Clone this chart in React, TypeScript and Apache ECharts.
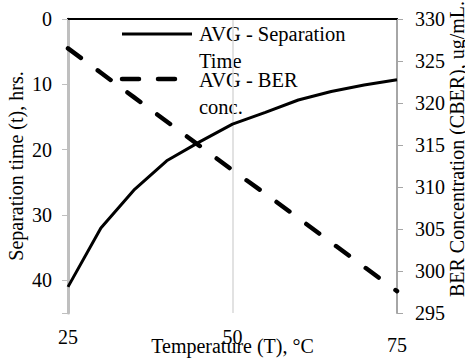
import React, { useEffect, useRef } from "react";
import * as echarts from "echarts";

const temperatures = [25, 30, 35, 40, 45, 50, 55, 60, 65, 70, 75];
const separationTime = [41.0, 32.0, 26.2, 21.7, 18.8, 16.1, 14.3, 12.4, 11.1, 10.1, 9.3];
const berConc = [326.5, 323.6, 320.7, 317.8, 314.9, 312.0, 309.2, 306.3, 303.4, 300.5, 297.6];
const seriesNames = ["AVG - Separation\nTime", "AVG - BER\nconc."];

const FONT = "Liberation Serif";

export default function App() {
  const ref = useRef<HTMLDivElement>(null);
  useEffect(() => {
    if (!ref.current) return;
    document.body.style.margin = "0";
    const chart = echarts.init(ref.current, null, { renderer: "svg" });
    const textBase = { fontFamily: FONT, fontSize: 20, color: "#000" };
    chart.setOption({
      animation: false,
      backgroundColor: "#fff",
      textStyle: { fontFamily: FONT },
      grid: { left: 68, right: 68, top: 19, bottom: 45, containLabel: false, outerBoundsMode: "none" },
      xAxis: [
        {
          type: "value",
          min: 25,
          max: 75,
          interval: 25,
          position: "bottom",
          name: "Temperature (T), °C",
          nameLocation: "middle",
          nameGap: 23,
          nameMoveOverlap: false,
          nameTextStyle: { ...textBase },
          axisLine: { show: true, lineStyle: { color: "#000", width: 2 } },
          axisTick: { show: false },
          axisLabel: {
            ...textBase,
            margin: 14,
            formatter: (v: number) => (v === 75 ? "{lo|75}" : "{n|" + v + "}"),
            rich: {
              n: { ...textBase },
              lo: { ...textBase, padding: [8, 0, 0, 0] },
            },
          },
          splitLine: { show: true, lineStyle: { color: "#d9d9d9", width: 1.5 } },
        },
        {
          type: "value",
          min: 25,
          max: 75,
          position: "top",
          axisLine: { show: true, onZero: false, lineStyle: { color: "#000", width: 2 } },
          axisTick: { show: false },
          axisLabel: { show: false },
          splitLine: { show: false },
        },
      ],
      yAxis: [
        {
          type: "value",
          inverse: true,
          min: 0,
          max: 45,
          interval: 10,
          position: "left",
          name: "Separation time (t), hrs.",
          nameLocation: "middle",
          nameGap: 42,
          nameMoveOverlap: false,
          nameTextStyle: { ...textBase },
          axisLine: { show: true, lineStyle: { color: "#bfbfbf", width: 3 } },
          axisTick: { show: true, length: 6, lineStyle: { color: "#bfbfbf", width: 1 } },
          axisLabel: {
            ...textBase,
            margin: 16,
            formatter: (v: number) => (v === 45 ? "" : String(v)),
          },
          splitLine: { show: false },
        },
        {
          type: "value",
          min: 295,
          max: 330,
          interval: 5,
          position: "right",
          name: "BER Concentration (CBER), ug/mL.",
          nameLocation: "middle",
          nameGap: 50,
          nameRotate: 90,
          nameMoveOverlap: false,
          nameTextStyle: { ...textBase, padding: [0, 0, 0, 34] },
          axisLine: { show: true, lineStyle: { color: "#a6a6a6", width: 2 } },
          axisTick: { show: true, length: 6, lineStyle: { color: "#a6a6a6", width: 1 } },
          axisLabel: { ...textBase, margin: 18 },
          splitLine: { show: false },
        },
      ],
      series: [
        {
          name: seriesNames[0],
          type: "line",
          xAxisIndex: 0,
          yAxisIndex: 0,
          data: temperatures.map((t, i) => [t, separationTime[i]]),
          showSymbol: false,
          symbol: "none",
          lineStyle: { color: "#000", width: 3 },
          z: 3,
        },
        {
          name: seriesNames[1],
          type: "line",
          xAxisIndex: 0,
          yAxisIndex: 1,
          data: temperatures.map((t, i) => [t, berConc[i]]),
          showSymbol: false,
          symbol: "none",
          lineStyle: { color: "#000", width: 4.5, type: [16, 21], cap: "round" },
          z: 3,
        },
      ],
      graphic: [
        {
          type: "line",
          shape: { x1: 122, y1: 34, x2: 192, y2: 34 },
          style: { stroke: "#000", lineWidth: 3 },
        },
        {
          type: "text",
          x: 199,
          y: 20,
          style: {
            text: seriesNames[0],
            fontFamily: FONT,
            fontSize: 20.5,
            fill: "#000",
            verticalAlign: "top",
            lineHeight: 27,
          },
        },
        {
          type: "line",
          shape: { x1: 122, y1: 79, x2: 180, y2: 79 },
          style: { stroke: "#000", lineWidth: 4.5, lineDash: [17, 19], lineCap: "round" },
        },
        {
          type: "text",
          x: 199,
          y: 66,
          style: {
            text: seriesNames[1],
            fontFamily: FONT,
            fontSize: 20.5,
            fill: "#000",
            verticalAlign: "top",
            lineHeight: 27,
          },
        },
      ],
    });
    return () => chart.dispose();
  }, []);
  return <div ref={ref} style={{ width: 465, height: 358 }} />;
}
